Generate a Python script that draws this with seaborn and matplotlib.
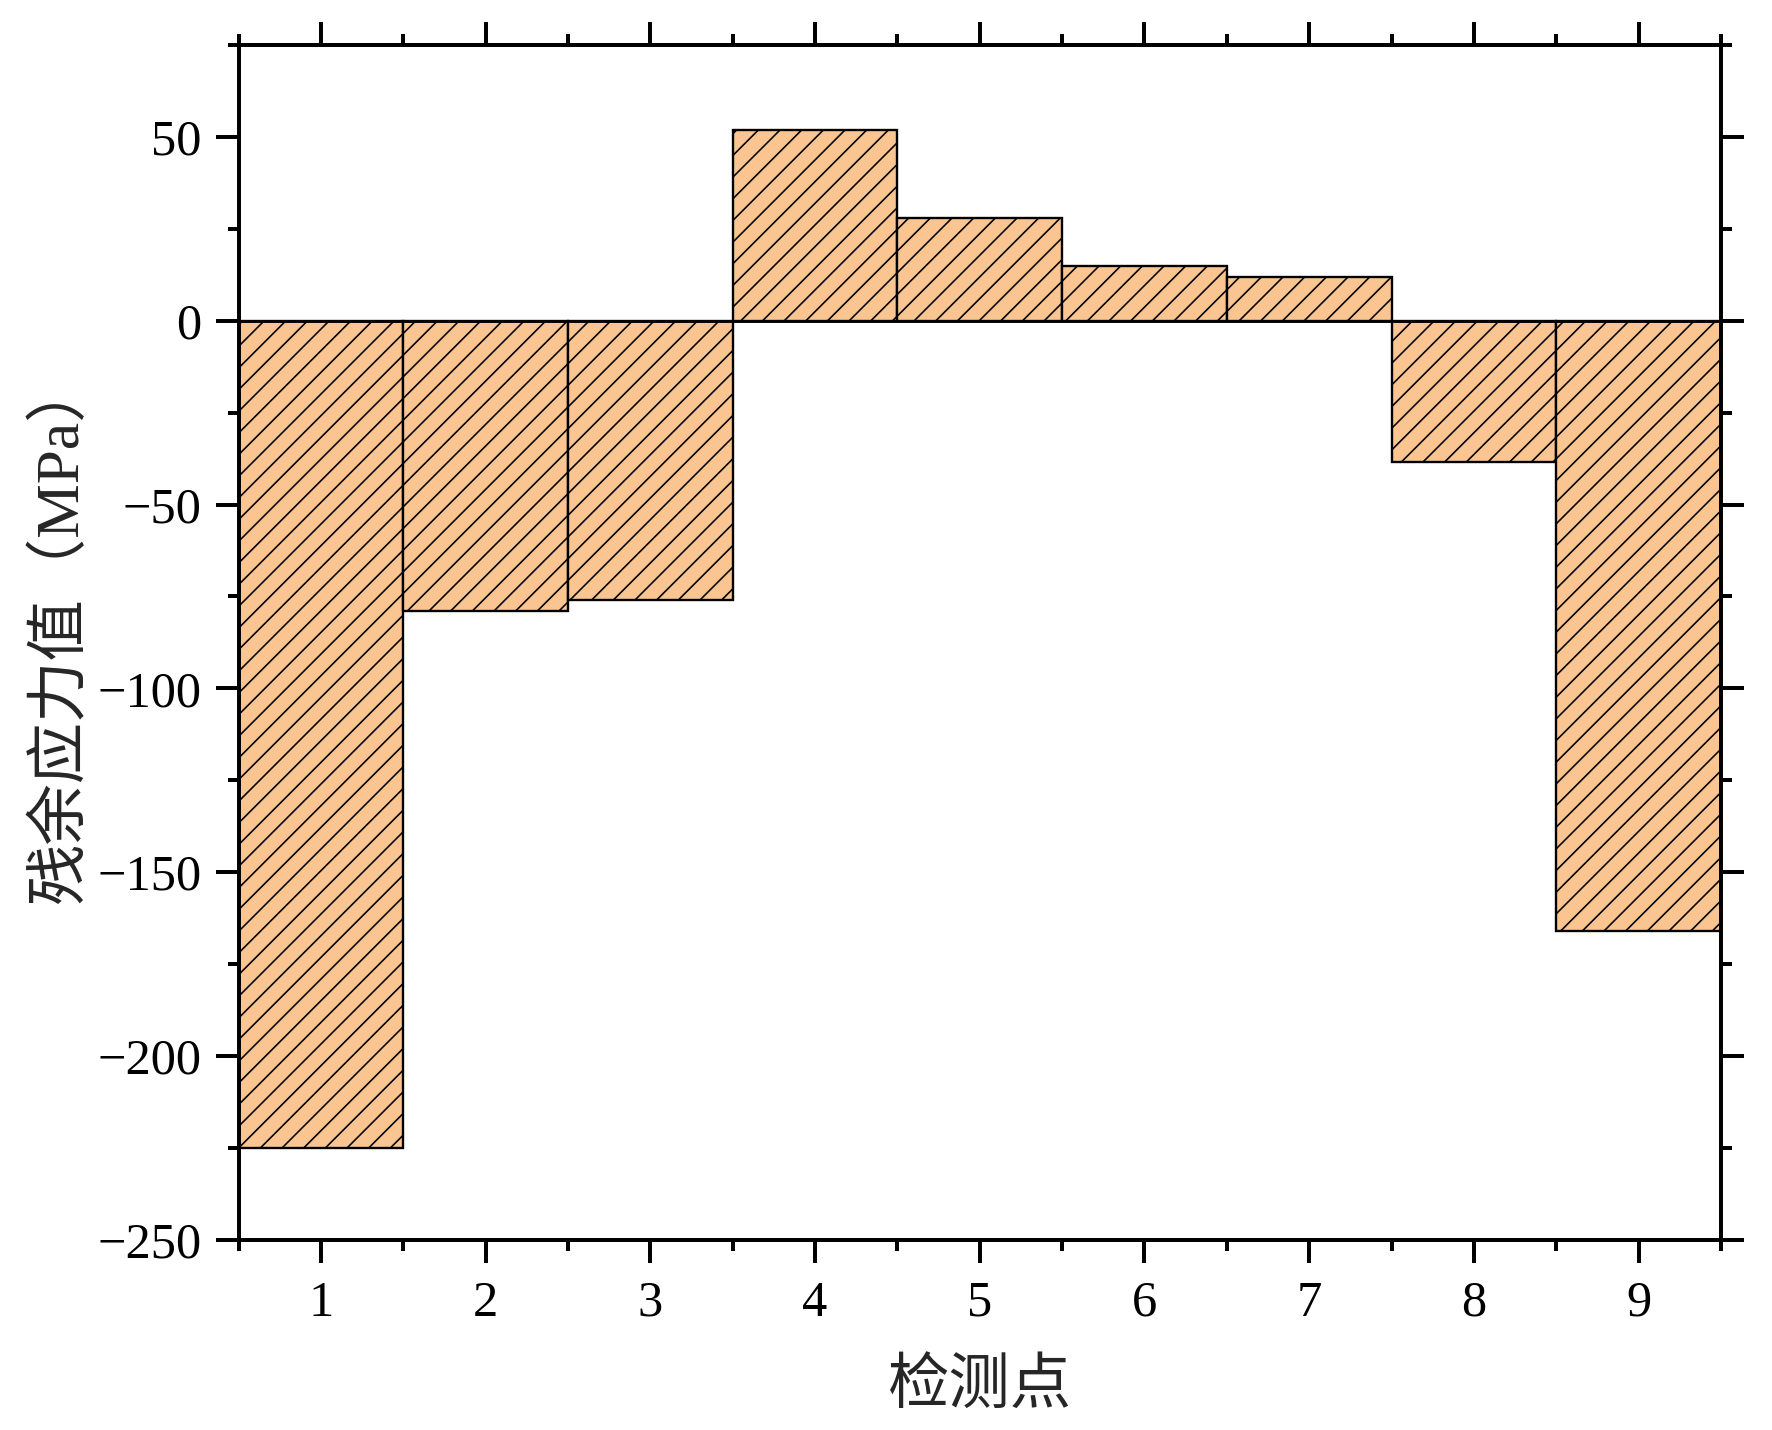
import numpy as np
import pandas as pd
import matplotlib
matplotlib.use("Agg")
import matplotlib.pyplot as plt
from matplotlib.ticker import MultipleLocator
import seaborn as sns

# données
points = [1, 2, 3, 4, 5, 6, 7, 8, 9]
stress = [-225, -79, -76, 52, 28, 15, 12, -38.5, -166]
y_ticks = [-250, -200, -150, -100, -50, 0, 50]

BAR_COLOR = "#FBC592"

sns.set_theme(style="white")
plt.rcParams["font.family"] = ["Liberation Serif", "Noto Sans CJK SC"]
plt.rcParams["hatch.linewidth"] = 0.9
plt.rcParams["hatch.color"] = "black"
plt.rcParams["axes.unicode_minus"] = True

df = pd.DataFrame({"point": points, "stress": stress})

fig = plt.figure(figsize=(1772 / 130, 1430 / 130), dpi=130)
ax = fig.add_axes([0.1346, 0.1331, 0.9712 - 0.1346, 0.9684 - 0.1331])

sns.barplot(data=df, x="point", y="stress", native_scale=True, width=1.0,
            color=BAR_COLOR, saturation=1, edgecolor="black", linewidth=1.3,
            ax=ax, zorder=2)
for p in ax.patches:
    p.set_hatch("//")

ax.axhline(0, color="black", lw=1.6, zorder=3)

ax.set_xlim(0.5, 9.5)
ax.set_ylim(-250, 75)
ax.set_xticks(points)
ax.set_xticklabels([str(p) for p in points])
ax.xaxis.set_minor_locator(MultipleLocator(0.5))
ax.set_yticks(y_ticks)
ax.yaxis.set_minor_locator(MultipleLocator(25))

ax.tick_params(which="both", direction="out", top=True, right=True,
               bottom=True, left=True, width=2.2, colors="black",
               labelsize=28)
ax.tick_params(axis="y", pad=8)
ax.tick_params(axis="x", pad=10)
ax.tick_params(which="major", length=12.5)
ax.tick_params(which="minor", length=6)
for s in ax.spines.values():
    s.set_linewidth(2.2)
    s.set_color("black")

ax.set_xlabel("检测点", fontsize=34)
ax.set_ylabel("残余应力值（MPa）", fontsize=34)
ax.xaxis.set_label_coords(0.5, -0.1)
ax.yaxis.set_label_coords(-0.100, 0.509)
ax.grid(False)

fig.savefig("out.png", dpi=130, facecolor="white")
